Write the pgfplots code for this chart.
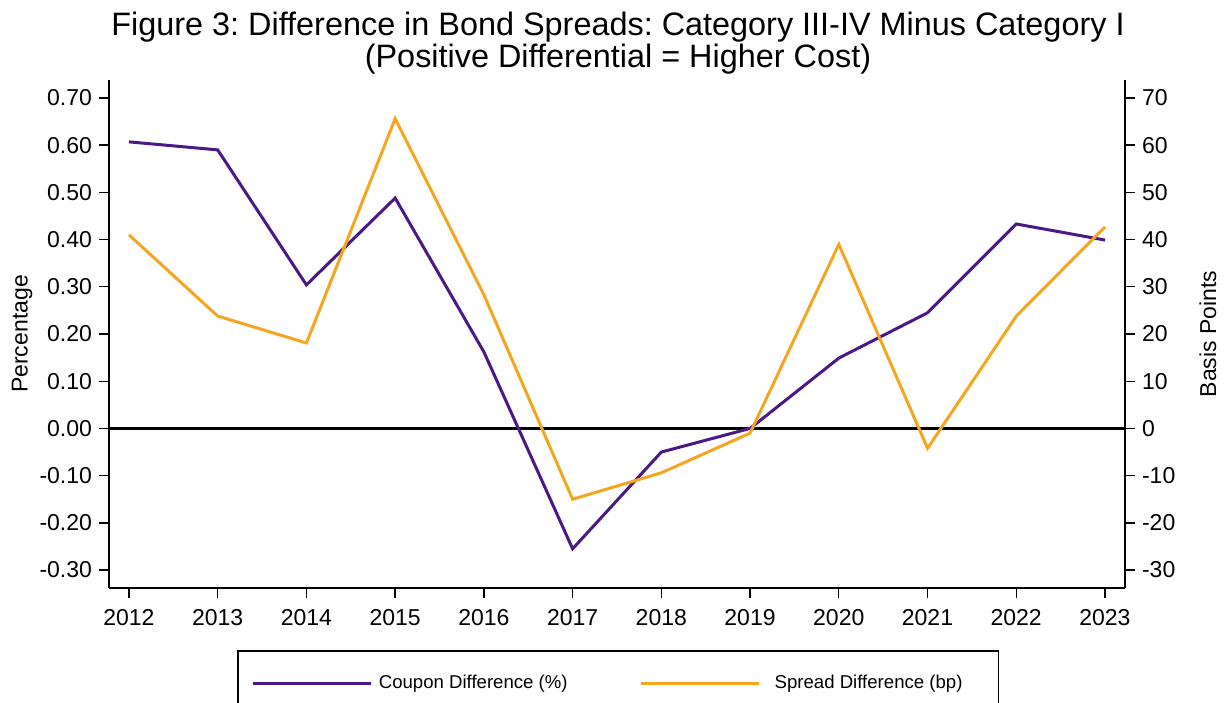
\documentclass[border=0pt]{standalone}
\usepackage{fontspec}
\setmainfont{Liberation Sans}
\usepackage{pgfplots}
\pgfplotsset{compat=1.18}
\frenchspacing

\definecolor{coupon}{RGB}{75,25,135}
\definecolor{spread}{RGB}{245,165,30}

\pgfplotsset{
  base/.style={
    scale only axis,
    width=508pt, height=254pt,
    at={(0pt,0pt)}, anchor=south west,
    xmin=2011.775, xmax=2023.225,
    tick align=outside,
    major tick length=5pt,
    every tick/.style={black, line width=0.7pt},
    axis line style={line width=0.8pt},
    ticklabel style={font=\fontsize{11.5}{12}\selectfont},
    label style={font=\fontsize{11.5}{12}\selectfont},
    /pgf/number format/assume math mode=true,
  },
}

\begin{document}
\begin{tikzpicture}
\begin{axis}[base,
    axis x line*=bottom, axis y line*=left,
    ymin=-0.338, ymax=0.738,
    ytick={-0.3,-0.2,...,0.71},
    xtick={2012,...,2023},
    xticklabel style={/pgf/number format/1000 sep={}},
    x tick label style={yshift=-2pt},
    yticklabel style={/pgf/number format/.cd, fixed, fixed zerofill, precision=2},
    ylabel={Percentage},
    ylabel style={at={(axis description cs:-0.0856,0.5)}, anchor=center},
  ]
  \addplot[black, line width=1.1pt, forget plot] coordinates {(2011.775,0) (2023.225,0)};
  \addplot[coupon, line width=1.5pt] coordinates {
    (2012,0.607) (2013,0.590) (2014,0.304) (2015,0.488) (2016,0.162) (2017,-0.255)
    (2018,-0.050) (2019,0.000) (2020,0.149) (2021,0.245) (2022,0.433) (2023,0.399)
  };
\end{axis}
\begin{axis}[base,
    axis x line=none, axis y line*=right,
    ymin=-33.8, ymax=73.8,
    ytick={-30,-20,...,70},
    ylabel={Basis Points},
    ylabel style={at={(axis description cs:1.0817,0.5)}, anchor=center},
    legend columns=2,
    legend cell align=left,
    legend image code/.code={\draw[#1] (0pt,0pt) -- (59pt,0pt);},
    /tikz/every even column/.append style={column sep=33pt},
    legend style={at={(rel axis cs:0.126,-0.122)}, anchor=north west,
      draw=black, line width=0.8pt, inner xsep=7pt, inner ysep=9pt,
      font=\fontsize{9.3}{11}\selectfont,
      nodes={inner sep=3pt}},
  ]
  \addlegendimage{coupon, line width=1.5pt}
  \addlegendentry{Coupon Difference (\%)}
  \addplot[spread, line width=1.5pt] coordinates {
    (2012,41.0) (2013,23.8) (2014,18.1) (2015,65.6) (2016,28.3) (2017,-15.0)
    (2018,-9.4) (2019,-1.0) (2020,39.0) (2021,-4.2) (2022,23.8) (2023,42.7)
  };
  \addlegendentry{\hspace*{4pt}Spread Difference (bp)\hspace*{8pt}}
\end{axis}
\node[align=center, font=\fontsize{16.2}{14.8}\selectfont] at (254.5pt,272.5pt)
  {Figure 3: Difference in Bond Spreads: Category III-IV Minus Category I\\(Positive Differential = Higher Cost)};
\pgfresetboundingbox
\path[use as bounding box] (-54.5pt,-57pt) rectangle (559pt,294pt);
\end{tikzpicture}
\end{document}
